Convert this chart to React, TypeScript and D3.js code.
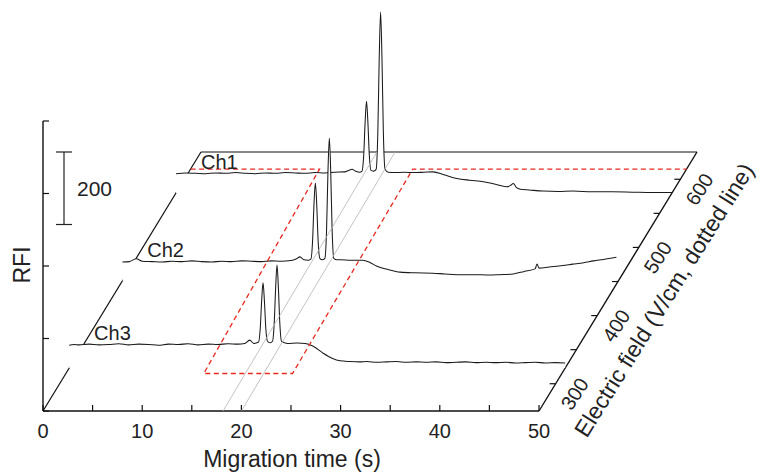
import React from 'react';
import * as d3 from 'd3';

const W = 760;
const H = 473;

// Electropherograms, one per channel: [migration time (s), RFI]
const ch1: [number, number][] = [
  [0, 53], [1, 55], [2, 54], [3, 53], [4, 55], [5, 54], [6, 56], [7, 54], [8, 53], [9, 55],
  [10, 54], [11, 56], [12, 55], [13, 54], [14, 56], [15, 55], [16, 57], [17, 58], [17.4, 62],
  [17.74, 65], [18.1, 60], [18.5, 57], [18.75, 60], [18.92, 105], [19.06, 195], [19.2, 253],
  [19.34, 195], [19.48, 105], [19.65, 62], [19.9, 60], [20.17, 65], [20.34, 165], [20.48, 370],
  [20.62, 499], [20.76, 370], [20.9, 165], [21.07, 65], [21.4, 57], [22, 56], [23, 57],
  [24, 56], [25, 57], [25.9, 58], [27, 50], [28.3, 40], [29.6, 35], [31, 31], [32.2, 24],
  [33.3, 17], [33.7, 20], [34.0, 26], [34.3, 15], [34.7, 10], [35.6, 8], [37, 5], [38.5, 4],
  [40, 5], [42, 3], [44, 3], [46, 2], [48, 1], [50, 1],
];

const ch2: [number, number][] = [
  [0, 52], [0.7, 53], [1.4, 61], [2, 54], [3, 53], [4, 52], [5, 54], [6, 53], [7, 55], [8, 53],
  [9, 52], [10, 54], [11, 53], [12, 55], [13, 54], [14, 53], [15, 55], [16, 54], [17, 56],
  [17.5, 60], [17.9, 66], [18.3, 58], [18.7, 57], [19.0, 60], [19.17, 110], [19.31, 210],
  [19.45, 270], [19.59, 210], [19.73, 110], [19.9, 62], [20.15, 58], [20.41, 62], [20.58, 140],
  [20.72, 300], [20.86, 394], [21.0, 300], [21.14, 140], [21.31, 62], [21.6, 58], [22, 58],
  [23, 57], [24.2, 57], [25.0, 50], [25.6, 41], [26.8, 31], [28, 24], [29.5, 22], [31.3, 21],
  [32.5, 19], [34, 17], [35.5, 17], [37, 16], [38, 17], [39.4, 19], [40.5, 26], [41.6, 33],
  [41.8, 46], [42.0, 35], [43, 38], [44, 41], [45.4, 46], [46.5, 50], [47.5, 55], [48.5, 59],
  [49.8, 65],
];

const ch3: [number, number][] = [
  [0, 63], [0.5, 65], [1, 64], [2, 66], [3, 64], [4, 65], [5, 67], [6, 64], [7, 66], [8, 65],
  [9, 63], [10, 66], [11, 65], [12, 67], [13, 64], [14, 66], [15, 65], [16, 67], [17, 66],
  [17.7, 68], [18.2, 77], [18.6, 68], [19.09, 72], [19.26, 110], [19.4, 185], [19.54, 235],
  [19.68, 185], [19.82, 110], [19.99, 74], [20.24, 70], [20.5, 74], [20.67, 125], [20.81, 220],
  [20.95, 284], [21.09, 220], [21.23, 125], [21.4, 74], [21.7, 70], [22, 68], [23, 69],
  [23.8, 68], [24.6, 60], [25.6, 41], [26.5, 27], [27.3, 20], [28.3, 18], [29.3, 17], [30, 18],
  [31, 16], [32, 17], [33, 18], [34, 16], [35, 17], [36, 16], [37, 17], [38, 15], [39, 16],
  [40, 17], [41, 15], [42, 16], [43, 15], [44, 16], [45, 14], [46, 15], [47, 16], [48, 14],
  [49, 15], [50, 14],
];

const channelNames = ['Ch1', 'Ch2', 'Ch3'];
const channelTraces = [ch1, ch2, ch3];
const channelFields = [580, 451, 323]; // V/cm

const timeTicks = [0, 5, 10, 15, 20, 25, 30, 35, 40, 45, 50];
const timeLabels = [0, 10, 20, 30, 40, 50];
const fieldTicks = [300, 350, 400, 450, 500, 550, 600];
const fieldLabels = [300, 400, 500, 600];
const rfiTicks = [0, 200, 400, 600, 800];
const scaleBarValue = 200;

// Applied electric field program (dotted line): time (s) and field (V/cm)
const fieldTime = [0, 13.0, 13.9, 22.85, 22.4, 50];
const fieldValue = [615, 615, 315, 315, 615, 615];

// Peak alignment guides: time at the front and at the back of the field axis
const guideFront = [18.15, 20.0];
const guideBack = [17.74, 19.56];

const FONT = '"Liberation Sans", Arial, Helvetica, sans-serif';

// Oblique projection: time runs to the right, field recedes up-right, RFI rises vertically
const xScale = d3.scaleLinear().domain([0, 50]).range([43, 539]);
const depthScale = d3.scaleLinear().domain([260, 640]).range([0, 259]);
const zScale = d3.scaleLinear().domain([0, 800]).range([0, 290]);
const SKEW = 0.61;
const FLOOR_Y = 411;

function proj(t: number, e: number, r: number): [number, number] {
  const d = depthScale(e);
  return [xScale(t) + SKEW * d, FLOOR_Y - d - zScale(r)];
}

const traceLine = d3
  .line<[number, number]>()
  .x((p) => p[0])
  .y((p) => p[1])
  .curve(d3.curveMonotoneX);

const straight = d3
  .line<[number, number]>()
  .x((p) => p[0])
  .y((p) => p[1]);

export default function App() {
  const eMin = depthScale.domain()[0];
  const eMax = depthScale.domain()[1];
  const origin = proj(0, eMin, 0);
  const frontRight = proj(50, eMin, 0);
  const backLeft = proj(0, eMax, 0);
  const backRight = proj(50, eMax, 0);
  const rfiTop = proj(0, eMin, 800);

  const fieldPts = fieldTime.map((t, i) => proj(t, fieldValue[i], 0));

  // scale bar
  const barX = 64;
  const barTop = 152;
  const barBottom = barTop + zScale(scaleBarValue);

  return (
    <svg
      width={W}
      height={H}
      viewBox={`0 0 ${W} ${H}`}
      style={{ position: 'absolute', left: 0, top: 0, background: '#fff' }}
      fontFamily={FONT}
    >
      <rect x={0} y={0} width={W} height={H} fill="#fff" />

      {/* floor outline */}
      <g stroke="#111" strokeWidth={1.2} fill="none">
        <line x1={origin[0]} y1={origin[1]} x2={backLeft[0]} y2={backLeft[1]} />
        <line x1={backLeft[0]} y1={backLeft[1]} x2={backRight[0]} y2={backRight[1]} strokeWidth={1} />
        <line x1={frontRight[0]} y1={frontRight[1]} x2={backRight[0]} y2={backRight[1]} strokeWidth={1.4} />
        <line x1={origin[0]} y1={origin[1]} x2={frontRight[0]} y2={frontRight[1]} strokeWidth={1.5} />
        <line x1={origin[0]} y1={origin[1]} x2={rfiTop[0]} y2={rfiTop[1]} strokeWidth={1.4} />
      </g>

      {/* RFI ticks */}
      {rfiTicks.map((v) => {
        const p = proj(0, eMin, v);
        return <line key={`r${v}`} x1={p[0]} y1={p[1]} x2={p[0] + 6} y2={p[1]} stroke="#111" strokeWidth={1.2} />;
      })}

      {/* time ticks & labels */}
      {timeTicks.map((t) => {
        const p = proj(t, eMin, 0);
        return <line key={`t${t}`} x1={p[0]} y1={p[1]} x2={p[0]} y2={p[1] - 6} stroke="#111" strokeWidth={1.2} />;
      })}
      {timeLabels.map((t) => {
        const p = proj(t, eMin, 0);
        return (
          <text key={`tl${t}`} x={p[0]} y={p[1] + 27} fontSize={20} textAnchor="middle" fill="#222">
            {t}
          </text>
        );
      })}

      {/* field ticks & labels */}
      {fieldTicks.map((e) => {
        const p = proj(50, e, 0);
        return <line key={`f${e}`} x1={p[0]} y1={p[1]} x2={p[0] - 6} y2={p[1]} stroke="#111" strokeWidth={1.2} />;
      })}
      {fieldLabels.map((e) => {
        const p = proj(50, e, 0);
        const cx = p[0] + 19;
        const cy = p[1] + 10;
        return (
          <text
            key={`fl${e}`}
            x={cx}
            y={cy}
            fontSize={20}
            textAnchor="middle"
            dominantBaseline="central"
            fill="#222"
            transform={`rotate(-57 ${cx} ${cy})`}
          >
            {e}
          </text>
        );
      })}

      {/* electropherograms, back to front, each hiding what lies behind it */}
      {channelTraces.map((trace, i) => {
        const e = channelFields[i];
        const pts = trace.map((d) => proj(d[0], e, d[1]));
        const first = trace[0][0];
        const last = trace[trace.length - 1][0];
        const f0 = proj(first, e, 0);
        const f1 = proj(last, e, 0);
        const linePath = traceLine(pts) || '';
        const fillPath = `${linePath}L${f1[0]},${f1[1]}L${f0[0]},${f0[1]}Z`;
        return (
          <g key={channelNames[i]}>
            <path d={fillPath} fill="#fff" stroke="none" />
            <path d={linePath} fill="none" stroke="#1a1a1a" strokeWidth={1.05} strokeLinejoin="round" />
          </g>
        );
      })}

      {/* peak alignment guides */}
      {guideFront.map((t, i) => {
        const a = proj(t, eMin, 0);
        const b = proj(guideBack[i], eMax, 0);
        return <line key={`g${i}`} x1={a[0]} y1={a[1]} x2={b[0]} y2={b[1]} stroke="#b4b4b4" strokeWidth={0.8} />;
      })}

      {/* applied field (dotted line) */}
      <path
        d={straight(fieldPts) || ''}
        fill="none"
        stroke="#e8291f"
        strokeWidth={1.3}
        strokeDasharray="5,3.5"
      />

      {/* channel labels */}
      {channelNames.map((name, i) => {
        const p = proj(1.3, channelFields[i], 0);
        const base = proj(1.3, channelFields[i], channelTraces[i][0][1]);
        return (
          <text key={`cl${name}`} x={p[0] + 12} y={base[1] - 5} fontSize={20} fill="#222">
            {name}
          </text>
        );
      })}

      {/* scale bar */}
      <g stroke="#222" strokeWidth={1.2}>
        <line x1={barX} y1={barTop} x2={barX} y2={barBottom} />
        <line x1={barX - 8} y1={barTop} x2={barX + 8} y2={barTop} />
        <line x1={barX - 8} y1={barBottom} x2={barX + 8} y2={barBottom} />
      </g>
      <text x={77} y={(barTop + barBottom) / 2} fontSize={21} dominantBaseline="central" fill="#222">
        {scaleBarValue}
      </text>

      {/* axis titles */}
      <text x={292} y={467} fontSize={23} textAnchor="middle" fill="#222">
        Migration time (s)
      </text>
      <text
        x={22}
        y={265}
        fontSize={23}
        textAnchor="middle"
        dominantBaseline="central"
        fill="#222"
        transform="rotate(-90 22 265)"
      >
        RFI
      </text>
      <text
        x={664}
        y={300}
        fontSize={23}
        textAnchor="middle"
        dominantBaseline="central"
        fill="#222"
        transform="rotate(-58 664 300)"
      >
        Electric field (V/cm, dotted line)
      </text>
    </svg>
  );
}
